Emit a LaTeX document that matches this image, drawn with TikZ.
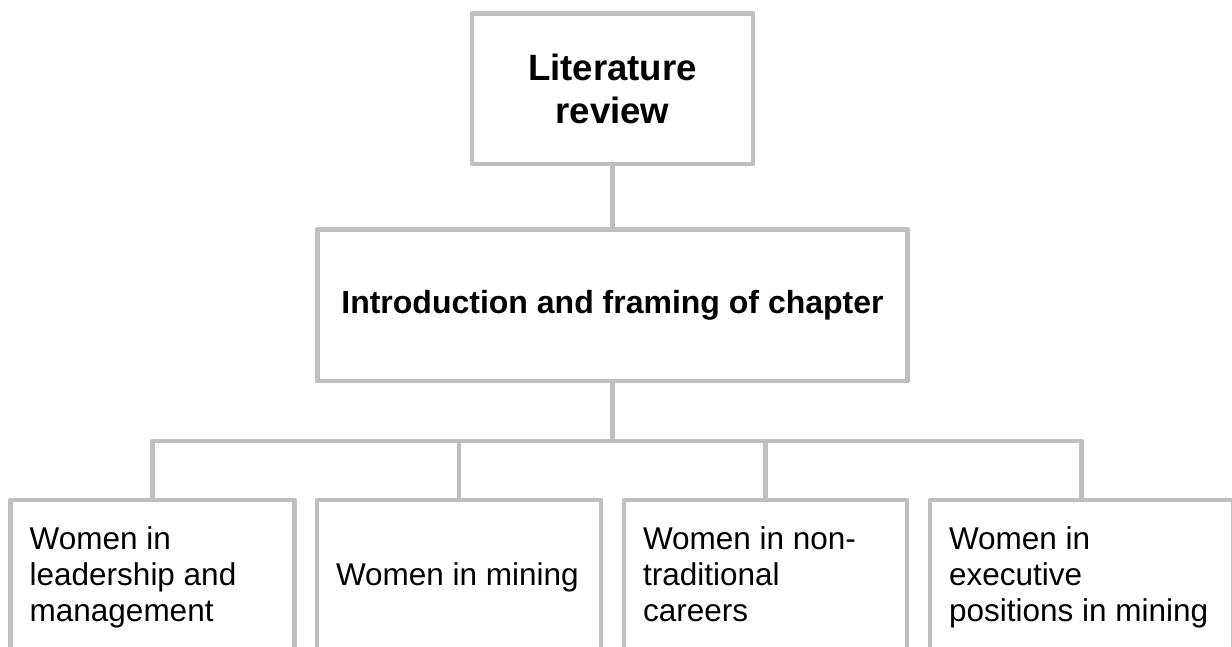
\documentclass[tikz,border=0pt]{standalone}
\usepackage{fontspec}
\setmainfont{Liberation Sans}
\definecolor{linegray}{RGB}{191,191,191}
\tikzset{
  box/.style={draw=linegray, line width=4.5pt, line join=round, inner sep=0pt, outer sep=0pt},
  conn/.style={draw=linegray, line width=4.5pt, line join=round},
  titletxt/.style={font=\fontsize{36.6}{42.6}\selectfont\bfseries, align=center},
  introtxt/.style={font=\fontsize{32}{37}\selectfont\bfseries, align=center},
  leaf/.style={box, minimum height=156pt, inner xsep=19pt, align=flush left,
               font=\fontsize{31.5}{36}\selectfont}
}
\begin{document}
\begin{tikzpicture}[x=1pt,y=-1pt]
\useasboundingbox (0,0) rectangle (1232,647);
\clip (0,0) rectangle (1232,647);
\node[box, titletxt, minimum width=281pt, minimum height=150.5pt] (lit) at (612.5,88.75) {Literature\\review};
\node[box, introtxt, minimum width=590pt, minimum height=151.5pt] (intro) at (612.5,305.25) {Introduction and framing of chapter};
\node[leaf, text width=245.6pt] (b1) at (152.5,578) {\strut Women in\\leadership and\\management\strut};
\node[leaf, text width=246pt] (b2) at (459,578) {\strut Women in mining\strut};
\node[leaf, text width=245pt] (b3) at (765.5,578) {\strut Women in non-\\traditional\\careers\strut};
\node[leaf, text width=265.4pt] (b4) at (1081.7,578) {\strut Women in\\executive\\positions in mining\strut};
\coordinate (bus) at (612.5,441);
\draw[conn] (lit.south) -- (intro.north);
\draw[conn] (intro.south) -- (bus);
\draw[conn] (b1.north) -- (b1.north |- bus) -- (b4.north |- bus) -- (b4.north);
\draw[conn] (b2.north) -- (b2.north |- bus);
\draw[conn] (b3.north) -- (b3.north |- bus);
\end{tikzpicture}
\end{document}
